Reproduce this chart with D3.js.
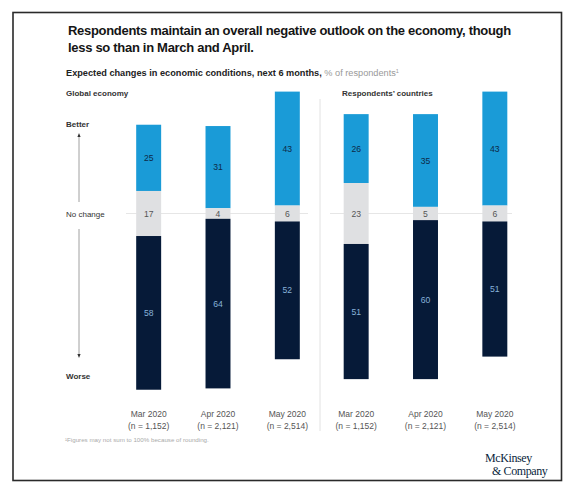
<!DOCTYPE html>
<html><head><meta charset="utf-8">
<script src="https://cdn.jsdelivr.net/npm/d3@7"></script>
<style>body{margin:0;background:#fff}svg{display:block}</style>
</head><body>
<script>
const periods = ["Mar 2020", "Apr 2020", "May 2020"];
const sampleSizes = ["(n = 1,152)", "(n = 2,121)", "(n = 2,514)"];
const panels = ["Global economy", "Respondents’ countries"];
const better = [[25, 31, 43], [26, 35, 43]];
const noChange = [[17, 4, 6], [23, 5, 6]];
const worse = [[58, 64, 52], [51, 60, 51]];
const axisLabels = ["Better", "No change", "Worse"];

const W = 564, H = 482;
const SANS = "Liberation Sans, Arial, sans-serif";
const svg = d3.select("body").append("svg").attr("width", W).attr("height", H)
  .attr("font-family", SANS);
svg.append("rect").attr("width", W).attr("height", H).attr("fill", "#fff");
svg.append("rect").attr("x", 13).attr("y", 12.5).attr("width", 548.5).attr("height", 468)
  .attr("fill", "none").attr("stroke", "#2a2a2a").attr("stroke-width", 1.6);

// title
const title = ["Respondents maintain an overall negative outlook on the economy, though", "less so than in March and April."];
svg.selectAll(".title").data(title).join("text").attr("x", 68).attr("y", (d, i) => 35 + i * 17)
  .attr("font-size", 13).attr("letter-spacing", -0.3).attr("font-weight", "bold").attr("fill", "#151515").text(d => d);

const sub = svg.append("text").attr("x", 66).attr("y", 76).attr("font-size", 9.2).attr("fill", "#222");
sub.append("tspan").attr("font-weight", "bold").text("Expected changes in economic conditions, next 6 months, ");
sub.append("tspan").attr("fill", "#999").text("% of respondents");
sub.append("tspan").attr("fill", "#999").attr("font-size", 5.5).attr("dy", -3.5).text("1");

const panelX = [[114, 322], [321.5, 529.5]];
const panelLabelX = [66, 342];
const y = d3.scaleLinear().domain([-50, 50]).range([213.5 + 132.5, 213.5 - 132.5]);
const colors = { better: "#1a9bd7", none: "#dfe0e2", worse: "#061a38" };
const labelColors = { better: "#0d2a47", none: "#555", worse: "#86b2d9" };

// axis labels & arrows
svg.selectAll(".ax").data(axisLabels).join("text").attr("x", 66)
  .attr("y", (d, i) => [127, 216.5, 379][i]).attr("font-size", 8).attr("font-weight", (d, i) => i === 1 ? "normal" : "bold")
  .attr("fill", "#333").text(d => d);
const defs = svg.append("defs");
defs.append("marker").attr("id", "ah").attr("viewBox", "0 0 10 10").attr("refX", 5).attr("refY", 5)
  .attr("markerWidth", 5).attr("markerHeight", 5).attr("orient", "auto-start-reverse")
  .append("path").attr("d", "M0,1 L10,5 L0,9 Z").attr("fill", "#333");
svg.append("line").attr("x1", 79).attr("x2", 79).attr("y1", 202).attr("y2", 135)
  .attr("stroke", "#888").attr("stroke-width", 0.8).attr("marker-end", "url(#ah)");
svg.append("line").attr("x1", 79).attr("x2", 79).attr("y1", 229).attr("y2", 356)
  .attr("stroke", "#888").attr("stroke-width", 0.8).attr("marker-end", "url(#ah)");

// divider
svg.append("line").attr("x1", 320).attr("x2", 320).attr("y1", 99).attr("y2", 431).attr("stroke", "#e2e2e2").attr("stroke-width", 1);

panels.forEach((p, pi) => {
  const x = d3.scaleBand().domain(periods).range(panelX[pi]).paddingInner(0.64).paddingOuter(0.32);
  svg.append("text").attr("x", panelLabelX[pi]).attr("y", 96).attr("font-size", 8).attr("font-weight", "bold")
    .attr("fill", "#333").text(p);
  svg.append("line").attr("x1", pi ? 330 : 126).attr("x2", pi ? 512 : 308).attr("y1", y(0)).attr("y2", y(0))
    .attr("stroke", "#e6e6e6").attr("stroke-width", 1);
  const g = svg.append("g");
  periods.forEach((per, i) => {
    const b = better[pi][i], n = noChange[pi][i], w = worse[pi][i];
    const segs = [
      { k: "better", v: b, lo: n / 2, hi: n / 2 + b },
      { k: "none", v: n, lo: -n / 2, hi: n / 2 },
      { k: "worse", v: w, lo: -n / 2 - w, hi: -n / 2 }
    ];
    segs.forEach(s => {
      g.append("rect").attr("x", x(per)).attr("width", x.bandwidth()).attr("y", y(s.hi))
        .attr("height", y(s.lo) - y(s.hi)).attr("fill", colors[s.k]);
      g.append("text").attr("x", x(per) + x.bandwidth() / 2).attr("y", (y(s.lo) + y(s.hi)) / 2 + 3)
        .attr("text-anchor", "middle").attr("font-size", 8.6).attr("fill", labelColors[s.k]).text(s.v);
    });
    svg.append("text").attr("x", x(per) + x.bandwidth() / 2).attr("y", 417).attr("text-anchor", "middle")
      .attr("font-size", 8.5).attr("fill", "#555").text(per);
    svg.append("text").attr("x", x(per) + x.bandwidth() / 2).attr("y", 428.5).attr("text-anchor", "middle")
      .attr("font-size", 8.5).attr("fill", "#555").text(sampleSizes[i]);
  });
});

svg.append("text").attr("x", 65).attr("y", 442).attr("font-size", 6.2).attr("fill", "#aaa")
  .text("¹Figures may not sum to 100% because of rounding.");

const SERIF = "Liberation Serif, DejaVu Serif, serif";
svg.append("text").attr("x", 485).attr("y", 462).attr("font-size", 12).attr("letter-spacing", -0.4)
  .attr("font-family", SERIF).attr("fill", "#0a1f3d").text("McKinsey");
svg.append("text").attr("x", 492).attr("y", 474.5).attr("font-size", 12).attr("letter-spacing", -0.4)
  .attr("font-family", SERIF).attr("fill", "#0a1f3d").text("& Company");
</script>
</body></html>
